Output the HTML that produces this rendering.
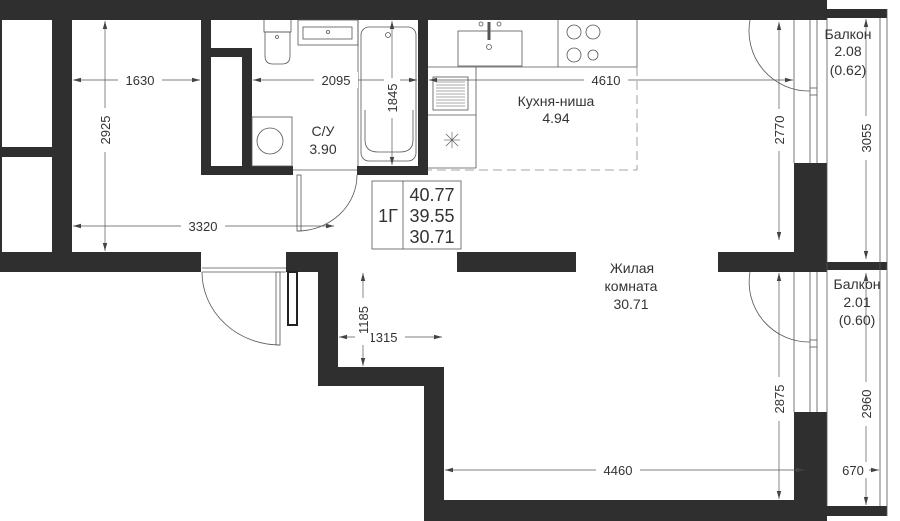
<!DOCTYPE html>
<html><head><meta charset="utf-8"><style>
html,body{margin:0;padding:0;background:#fff;}
svg{display:block;}
text{font-family:"Liberation Sans","DejaVu Sans",sans-serif;fill:#333;}
</style></head><body>
<svg width="900" height="521" viewBox="0 0 900 521" xmlns="http://www.w3.org/2000/svg">
<defs>
<marker id="a" markerWidth="8" markerHeight="6" refX="8" refY="3" orient="auto-start-reverse" markerUnits="userSpaceOnUse"><path d="M0,0.8 L8,3 L0,5.2z" fill="#444"/></marker>
</defs>
<g fill="#2f2f2f">
<rect x="0" y="0" width="827" height="20"/>
<rect x="827" y="9" width="60" height="9"/>
<rect x="0" y="0" width="2" height="272"/>
<rect x="52" y="20" width="20" height="240"/>
<rect x="0" y="147" width="52" height="10"/>
<rect x="0" y="252" width="201" height="20"/>
<rect x="286" y="252" width="52" height="20"/>
<rect x="318" y="252" width="20" height="134"/>
<rect x="318" y="367" width="126" height="19"/>
<rect x="424" y="367" width="20" height="154"/>
<rect x="424" y="500" width="403" height="21"/>
<rect x="827" y="506" width="60" height="10"/>
<rect x="457" y="252" width="119" height="20"/>
<rect x="718" y="252" width="109" height="20"/>
<rect x="827" y="262" width="60" height="8"/>
<rect x="794" y="163" width="33" height="109"/>
<rect x="794" y="412" width="33" height="109"/>
<rect x="201" y="20" width="10" height="155"/>
<rect x="201" y="48" width="51" height="9"/>
<rect x="242" y="48" width="10" height="127"/>
<rect x="201" y="166" width="92" height="9"/>
<rect x="357" y="166" width="71" height="9"/>
<rect x="418" y="20" width="10" height="155"/>
</g>
<g fill="none" stroke="#555" stroke-width="0.8">
<line x1="794" y1="20" x2="794" y2="163"/><line x1="810" y1="20" x2="810" y2="163"/><line x1="817" y1="20" x2="817" y2="163"/>
<line x1="810" y1="88" x2="817" y2="88"/><line x1="810" y1="95" x2="817" y2="95"/>
<line x1="794" y1="272" x2="794" y2="412"/><line x1="810" y1="272" x2="810" y2="412"/><line x1="817" y1="272" x2="817" y2="412"/>
<line x1="810" y1="340" x2="817" y2="340"/><line x1="810" y1="347" x2="817" y2="347"/>
<line x1="880" y1="18" x2="880" y2="506"/><line x1="887" y1="9" x2="887" y2="516"/>
<line x1="827" y1="18" x2="827" y2="506"/>
<path d="M750,20 A60,60 0 0 0 810,91"/>
<path d="M750,272 A60,60 0 0 0 810,342"/>
<rect x="297" y="175" width="4" height="56"/>
<path d="M357,175 A60,56 0 0 1 297,231"/>
<line x1="293" y1="170" x2="357" y2="170"/>
<line x1="202" y1="268" x2="286" y2="268"/><line x1="202" y1="272" x2="286" y2="272"/>
<rect x="276" y="272" width="4" height="73"/>
<path d="M202,272 A78,73 0 0 0 280,345"/>
<path d="M264,20 V32 H291 V20"/>
<path d="M265,32 H290 V56 Q290,64 282,64 H273 Q265,64 265,56 Z"/>
<circle cx="277" cy="37" r="1.5"/>
<rect x="298" y="20" width="60" height="25"/>
<rect x="303" y="27" width="49" height="12"/>
<circle cx="328" cy="32" r="1.5"/>
<line x1="358" y1="20" x2="358" y2="166"/>
<rect x="361" y="27" width="55" height="134" rx="8"/>
<path d="M365,110 V140 Q365,152 378,152 H400 Q413,152 413,140 V110"/>
<circle cx="388" cy="35" r="2.5"/>
<rect x="252" y="117" width="40" height="49"/>
<circle cx="270" cy="141" r="13"/>
<line x1="428" y1="67" x2="637" y2="67"/>
<rect x="458" y="31" width="64" height="35"/>
<circle cx="489" cy="47" r="2.5"/>
<line x1="489" y1="22" x2="489" y2="40" stroke-width="3"/>
<circle cx="481" cy="24" r="2"/><circle cx="499" cy="24" r="2"/>
<line x1="558" y1="20" x2="558" y2="67"/>
<line x1="637" y1="20" x2="637" y2="67"/>
<circle cx="574" cy="32" r="7"/><circle cx="593" cy="32" r="7"/><circle cx="574" cy="55" r="7"/><circle cx="593" cy="55" r="5"/>
<line x1="476" y1="67" x2="476" y2="168"/><line x1="428" y1="168" x2="476" y2="168"/><line x1="428" y1="115" x2="476" y2="115"/>
<rect x="433" y="77" width="35" height="33"/>
<g stroke-width="0.6">
<line x1="436" y1="82" x2="465" y2="82"/><line x1="436" y1="85" x2="465" y2="85"/><line x1="436" y1="88" x2="465" y2="88"/><line x1="436" y1="91" x2="465" y2="91"/><line x1="436" y1="94" x2="465" y2="94"/><line x1="436" y1="97" x2="465" y2="97"/><line x1="436" y1="100" x2="465" y2="100"/><line x1="436" y1="103" x2="465" y2="103"/><line x1="436" y1="106" x2="465" y2="106"/>
<line x1="444" y1="140" x2="460" y2="140"/><line x1="452" y1="132" x2="452" y2="148"/><line x1="446" y1="134" x2="458" y2="146"/><line x1="458" y1="134" x2="446" y2="146"/>
</g>
<path d="M637,67 V170 H428" stroke-dasharray="9,5" stroke="#888"/>
<rect x="288" y="272" width="9" height="53" stroke="#222" stroke-width="2"/>
<rect x="372" y="181" width="89" height="68"/>
<line x1="403" y1="181" x2="403" y2="249"/>
</g>
<g stroke="#555" stroke-width="0.7" fill="none" marker-start="url(#a)" marker-end="url(#a)">
<line x1="73" y1="80" x2="200" y2="80"/>
<line x1="253" y1="80" x2="417" y2="80"/>
<line x1="429" y1="80" x2="793" y2="80"/>
<line x1="105" y1="21" x2="105" y2="251"/>
<line x1="73" y1="226" x2="334" y2="226"/>
<line x1="392" y1="21" x2="392" y2="165"/>
<line x1="779" y1="22" x2="779" y2="240"/>
<line x1="866" y1="19" x2="866" y2="259"/>
<line x1="363" y1="273" x2="363" y2="366"/>
<line x1="339" y1="337" x2="442" y2="337"/>
<line x1="779" y1="273" x2="779" y2="499"/>
<line x1="866" y1="273" x2="866" y2="505"/>
<line x1="445" y1="470" x2="804" y2="470"/>
<line x1="839" y1="470" x2="879" y2="470"/>
</g>
<g font-size="13" text-anchor="middle">
<rect x="118" y="72" width="44" height="16" fill="#fff"/><text x="140" y="85">1630</text>
<rect x="314" y="72" width="44" height="16" fill="#fff"/><text x="336" y="85">2095</text>
<rect x="584" y="72" width="44" height="16" fill="#fff"/><text x="606" y="85">4610</text>
<rect x="181" y="218" width="44" height="16" fill="#fff"/><text x="203" y="231">3320</text>
<rect x="361" y="329" width="44" height="16" fill="#fff"/><text x="383" y="342">1315</text>
<rect x="596" y="462" width="44" height="16" fill="#fff"/><text x="618" y="475">4460</text>
<rect x="839" y="462" width="30" height="16" fill="#fff"/><text x="853" y="475">670</text>
<rect x="97" y="108" width="16" height="44" fill="#fff"/><text transform="translate(110,130) rotate(-90)">2925</text>
<rect x="384" y="78" width="16" height="40" fill="#fff"/><text transform="translate(397,98) rotate(-90)">1845</text>
<rect x="771" y="109" width="16" height="42" fill="#fff"/><text transform="translate(784,130) rotate(-90)">2770</text>
<rect x="858" y="116" width="16" height="44" fill="#fff"/><text transform="translate(871,138) rotate(-90)">3055</text>
<rect x="355" y="298" width="16" height="44" fill="#fff"/><text transform="translate(368,320) rotate(-90)">1185</text>
<rect x="771" y="377" width="16" height="44" fill="#fff"/><text transform="translate(784,399) rotate(-90)">2875</text>
<rect x="858" y="382" width="16" height="44" fill="#fff"/><text transform="translate(871,404) rotate(-90)">2960</text>
</g>
<g font-size="14" text-anchor="middle">
<text x="323" y="136">С/У</text><text x="323" y="154">3.90</text>
<text x="556" y="106">Кухня-ниша</text><text x="556" y="123">4.94</text>
<text x="848" y="39">Балкон</text><text x="848" y="56">2.08</text><text x="848" y="75">(0.62)</text>
<text x="632" y="273">Жилая</text><text x="631" y="291">комната</text><text x="631" y="309">30.71</text>
<text x="857" y="289">Балкон</text><text x="857" y="307">2.01</text><text x="857" y="325">(0.60)</text>
</g>
<g font-size="18" text-anchor="middle">
<text x="388" y="222">1Г</text>
<text x="432" y="201">40.77</text>
<text x="432" y="222">39.55</text>
<text x="432" y="243">30.71</text>
</g>
</svg>
</body></html>
